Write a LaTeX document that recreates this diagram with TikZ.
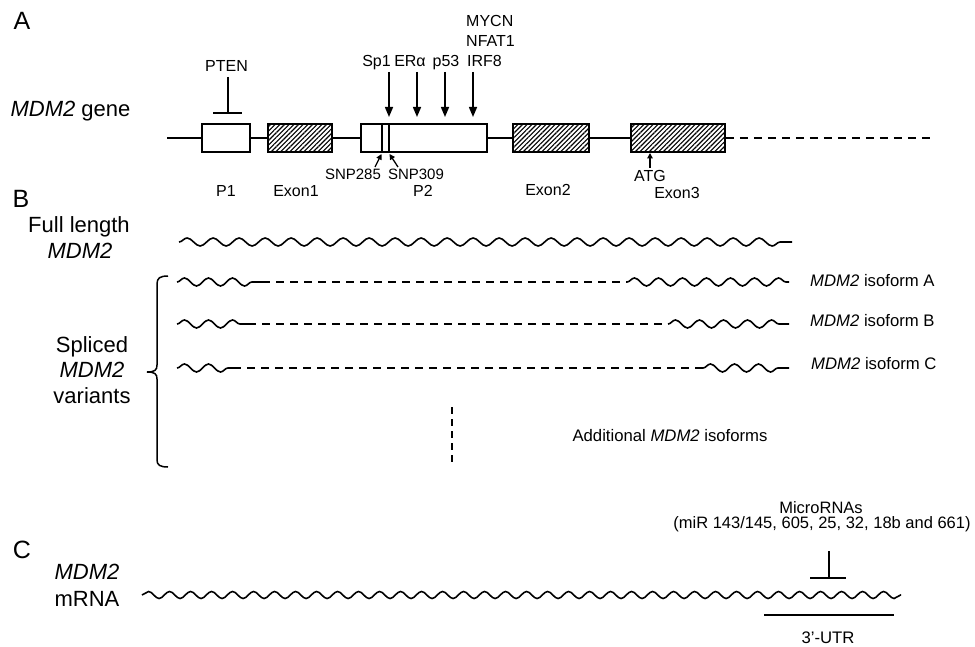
\documentclass[tikz,border=0pt]{standalone}
\usepackage{fontspec}
\setmainfont{Liberation Sans}
\usetikzlibrary{arrows.meta,patterns.meta,decorations.pathmorphing}
\begin{document}
\begin{tikzpicture}[x=1pt,y=-1pt,
  txt/.style={inner sep=0pt,text depth=0pt},
  sm/.style={txt,font=\fontsize{16}{18}\selectfont,text height=11.5pt},
  smb/.style={txt,font=\fontsize{16.7}{18}\selectfont,text height=12pt},
  big/.style={txt,font=\fontsize{22}{25}\selectfont,text height=15.8pt},
  panel/.style={txt,font=\fontsize{25}{28}\selectfont,text height=18pt},
  gbox/.style={draw,line width=1.7pt,fill=white,minimum height=28pt,inner sep=0pt},
  hatch/.style={gbox,pattern={Lines[angle=45,distance=3.3pt,line width=1.1pt]}},
  gline/.style={line width=1.6pt},
  dline/.style={line width=1.6pt,dash pattern=on 8pt off 6pt},
  arr/.style={line width=1.5pt,-{Triangle[length=10pt,width=8pt]}},
  sarr/.style={line width=1.3pt,-{Triangle[length=5.5pt,width=5.5pt]}},
  wave/.style={line width=1.6pt,decorate,decoration={snake,amplitude=4pt,segment length=#1}},
  wave/.default=25pt,
  tbar/.style={line width=1.6pt}
]
\useasboundingbox (0,0) rectangle (975,647);

% ---------- Panel A ----------
\node[panel] (pa) at (22,21) {A};
\node[big] (genelbl) at (70.5,109) {\textit{MDM2} gene};

\coordinate (gstart) at (167,138);
\coordinate (gend) at (930,138);
\node[gbox,minimum width=48pt] (p1) at (226,138) {};
\node[hatch,minimum width=64pt] (ex1) at (300,138) {};
\node[gbox,minimum width=126pt] (p2) at (424,138) {};
\node[hatch,minimum width=76pt] (ex2) at (551,138) {};
\node[hatch,minimum width=94pt] (ex3) at (678,138) {};
\draw[gline] (gstart) -- (p1.west);
\draw[gline] (p1.east) -- (ex1.west);
\draw[gline] (ex1.east) -- (p2.west);
\draw[gline] (p2.east) -- (ex2.west);
\draw[gline] (ex2.east) -- (ex3.west);
\draw[dline] (ex3.east) -- (gend);
% SNP lines inside P2
\coordinate (s1t) at (382,124); \coordinate (s1b) at (382,152);
\coordinate (s2t) at (389,124); \coordinate (s2b) at (389,152);
\draw[line width=1.4pt] (s1t) -- (s1b);
\draw[line width=1.4pt] (s2t) -- (s2b);

% PTEN inhibition
\node[sm] (pten) at (226.5,66) {PTEN};
\coordinate (ptenT) at (228,77);
\coordinate (ptenB) at (228,113);
\coordinate (ptenL) at (213,113);
\coordinate (ptenR) at (242,113);
\draw[tbar] (ptenT) -- (ptenB);
\draw[tbar] (ptenL) -- (ptenR);

% transcription factors
\node[sm] (sp1) at (376.5,61) {Sp1};
\node[sm] (era) at (410,61) {ERα};
\node[sm] (p53) at (446,61) {p53};
\node[sm,anchor=west] (mycn) at (466,21) {MYCN};
\node[sm,anchor=west] (nfat) at (466,41) {NFAT1};
\node[sm,anchor=west] (irf) at (467,61) {IRF8};
\foreach \n/\x in {a/389,b/417,c/445,d/473}{
  \coordinate (t\n) at (\x,72);
  \coordinate (h\n) at (\x,117);
  \draw[arr] (t\n) -- (h\n);
}

% SNPs
\node[sm,font=\fontsize{15}{17}\selectfont,text height=10.8pt] (snp285) at (353,174) {SNP285};
\node[sm,font=\fontsize{15}{17}\selectfont,text height=10.8pt] (snp309) at (416,174) {SNP309};
\coordinate (snpA) at (375,167);
\coordinate (snpB) at (398,167);
\coordinate (snpAh) at (381.5,154);
\coordinate (snpBh) at (389.5,154);
\draw[sarr] (snpA) -- (snpAh);
\draw[sarr] (snpB) -- (snpBh);

% ATG
\node[sm] (atg) at (650,176) {ATG};
\coordinate (atgT) at (650,168);
\coordinate (atgH) at (650,153);
\draw[sarr] (atgT) -- (atgH);

% region labels
\node[sm] (lp1) at (226,191) {P1};
\node[sm] (lex1) at (296,191) {Exon1};
\node[sm] (lp2) at (423,191) {P2};
\node[sm] (lex2) at (548,190) {Exon2};
\node[sm] (lex3) at (677,193) {Exon3};

% ---------- Panel B ----------
\node[panel] (pb) at (21,199) {B};
\node[big] (full1) at (79,225) {Full length};
\node[big] (full2) at (80,251) {\textit{MDM2}};
\node[big] (spl1) at (92,345) {Spliced};
\node[big] (spl2) at (92,370) {\textit{MDM2}};
\node[big] (spl3) at (92,396) {variants};

\coordinate (fl0) at (179,242);
\coordinate (fl1) at (792,242);
\draw[wave=26pt] (fl0) -- (fl1);

% isoform A
\coordinate (a0) at (177,282); \coordinate (a1) at (262,282);
\coordinate (a2) at (627,282); \coordinate (a3) at (789,282);
\draw[wave=24pt] (a0) -- (a1);
\draw[dline] (a1) -- (a2);
\draw[wave=24pt] (a2) -- (a3);
% isoform B
\coordinate (b0) at (177,324); \coordinate (b1) at (248,324);
\coordinate (b2) at (668,324); \coordinate (b3) at (789,324);
\draw[wave=24pt] (b0) -- (b1);
\draw[dline] (b1) -- (b2);
\draw[wave=24pt] (b2) -- (b3);
% isoform C
\coordinate (c0) at (177,368); \coordinate (c1) at (233,368);
\coordinate (c2) at (703,368); \coordinate (c3) at (789,368);
\draw[wave=24pt] (c0) -- (c1);
\draw[dline] (c1) -- (c2);
\draw[wave=24pt] (c2) -- (c3);

\node[smb,anchor=west] (isoA) at (810,281) {\textit{MDM2} isoform A};
\node[smb,anchor=west] (isoB) at (810,320) {\textit{MDM2} isoform B};
\node[smb,anchor=west] (isoC) at (811,363.5) {\textit{MDM2} isoform C};

\coordinate (v0) at (452,407);
\coordinate (v1) at (452,465);
\draw[dline,dash pattern=on 7pt off 5pt] (v0) -- (v1);
\node[smb] (addl) at (670,435) {Additional \textit{MDM2} isoforms};

% brace
\coordinate (brTop) at (168,276);
\coordinate (brTip) at (147,372);
\coordinate (brBot) at (168,467);
\draw[line width=1.5pt] (brTop) .. controls (160,276) and (157,278) .. (157,284)
  -- (157,365) .. controls (157,370) and (155,372) .. (brTip)
  .. controls (155,372) and (157,374) .. (157,379)
  -- (157,460) .. controls (157,465) and (160,467) .. (brBot);

% ---------- Panel C ----------
\node[panel] (pc) at (22,549) {C};
\node[big] (mr1) at (87,572) {\textit{MDM2}};
\node[big] (mr2) at (87,599) {mRNA};

\coordinate (m0) at (142,595);
\coordinate (m1) at (901,595);
\draw[wave=21pt,decoration={amplitude=3.5pt}] (m0) -- (m1);

\node[smb,font=\fontsize{16.5}{18}\selectfont] (mirA) at (821,507.5) {MicroRNAs};
\node[smb,font=\fontsize{16.5}{18}\selectfont] (mirB) at (822,522.5) {(miR 143/145, 605, 25, 32, 18b and 661)};
\coordinate (mT) at (829,551);
\coordinate (mB) at (829,578);
\coordinate (mL) at (810,578);
\coordinate (mR) at (846,578);
\draw[tbar] (mT) -- (mB);
\draw[tbar] (mL) -- (mR);

\coordinate (u0) at (764,615);
\coordinate (u1) at (894,615);
\draw[gline] (u0) -- (u1);
\node[smb] (utr) at (828,637) {3'-UTR};
\end{tikzpicture}
\end{document}
